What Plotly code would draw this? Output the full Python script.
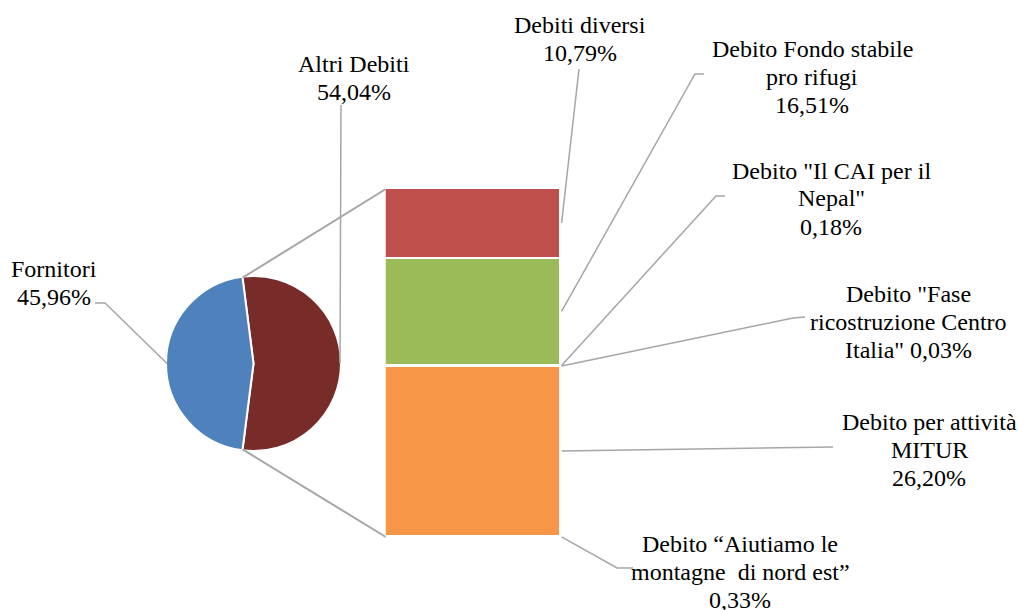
import math
import plotly.graph_objects as go

W, H = 1018, 610

# ---- data -------------------------------------------------------------
pie_labels = ["Fornitori", "Altri Debiti"]
pie_values = [45.96, 54.04]
pie_colors = ["#4F81BD", "#772C2A"]

# breakdown of "Altri Debiti", stacked bottom -> top
bar_labels = [
    "Debito “Aiutiamo le montagne di nord est”",
    "Debito per attività MITUR",
    "Debito \"Fase ricostruzione Centro Italia\"",
    "Debito \"Il CAI per il Nepal\"",
    "Debito Fondo stabile pro rifugi",
    "Debiti diversi",
]
bar_values = [0.33, 26.20, 0.03, 0.18, 16.51, 10.79]
bar_colors = ["#2C4D75", "#F79646", "#8064A2", "#4BACC6", "#9BBB59", "#C0504D"]

# text lines of each data label; {p} becomes the formatted percentage
pie_label_lines = [["Fornitori", "{p}"], ["Altri Debiti", "{p}"]]
bar_label_lines = [
    ["Debito “Aiutiamo le", "montagne  di nord est”", "{p}"],
    ["Debito per attività", "MITUR", "{p}"],
    ["Debito \"Fase", "ricostruzione Centro", "Italia\" {p}"],
    ["Debito \"Il CAI per il", "Nepal\"", "{p}"],
    ["Debito Fondo stabile", "pro rifugi", "{p}"],
    ["Debiti diversi", "{p}"],
]

# ---- layout (pixel positions) ------------------------------------------
PIE_BOX = (166.0, 276.0, 341.0, 451.0)      # x0, y0, x1, y1
BAR_BOX = (385.4, 188.0, 560.6, 538.0)
BORDER = 2.5
LINE_GAP = 28
FONT = dict(family="Liberation Serif", size=24, color="#000000")
LEADER = dict(color="#A6A6A6", width=1.5)
CONNECTOR = dict(color="#A6A6A6", width=2)

pie_label_pos = [(53.5, 269), (354, 64)]
pie_leader_elbow = [[(95, 303), (105, 303)], [(341, 105)]]
bar_label_pos = [(740, 544), (929, 421.5), (908, 293.5),
                 (831, 170.5), (812, 49.5), (580, 25)]
bar_leader_elbow = [[(633, 568), (617, 568)], [(833, 447)], [(805, 317), (793, 318)],
                    [(725, 196), (716, 196)], [(704, 74), (695, 74)], [(579, 69)]]


def fmt(v):
    return f"{v:.2f}".replace(".", ",") + "%"


def px_to_paper(x, y):
    return x / W, 1 - y / H


total_other = sum(bar_values)
pie_total = sum(pie_values)
share_other = pie_values[1] / pie_total

# the "other" slice is centred on the right side of the pie
rotation = 90 - 180 * share_other

cx = (PIE_BOX[0] + PIE_BOX[2]) / 2
cy = (PIE_BOX[1] + PIE_BOX[3]) / 2
R = (PIE_BOX[2] - PIE_BOX[0]) / 2
R_vis = R - 1


def pie_point(angle_deg, r):
    a = math.radians(angle_deg)
    return cx + r * math.sin(a), cy - r * math.cos(a)


def bar_y(v):
    return BAR_BOX[3] - (BAR_BOX[3] - BAR_BOX[1]) * v / total_other


fig = go.Figure()

fig.add_trace(go.Pie(
    labels=pie_labels[::-1], values=pie_values[::-1],
    marker=dict(colors=pie_colors[::-1], line=dict(color="white", width=2)),
    sort=False, direction="clockwise", rotation=rotation,
    textinfo="none", hoverinfo="label+percent", showlegend=False,
    domain=dict(x=[PIE_BOX[0] / W, PIE_BOX[2] / W],
                y=[1 - PIE_BOX[3] / H, 1 - PIE_BOX[1] / H]),
))

for name, v, c in zip(bar_labels, bar_values, bar_colors):
    fig.add_trace(go.Bar(
        x=[0], y=[v], name=name, width=1,
        marker=dict(color=c, line=dict(color="white", width=BORDER)),
        showlegend=False, hovertemplate=name + ": " + fmt(v) + "<extra></extra>",
    ))

shapes = []
annotations = []


def add_path(points, style):
    pts = [px_to_paper(x, y) for x, y in points]
    d = "M " + " L ".join(f"{x:.5f},{y:.5f}" for x, y in pts)
    shapes.append(dict(type="path", path=d, xref="paper", yref="paper",
                       line=style, layer="above"))


def add_label(lines, pos, pct):
    x0, y0 = pos
    for i, t in enumerate(lines):
        x, y = px_to_paper(x0, y0 + i * LINE_GAP)
        annotations.append(dict(text=t.replace("{p}", pct), x=x, y=y,
                                xref="paper", yref="paper", showarrow=False,
                                xanchor="center", yanchor="middle", font=FONT))


# pie-to-bar connectors from the edges of the "other" slice
top_pt = pie_point(rotation, R_vis)
bot_pt = pie_point(rotation + 360 * share_other, R_vis)
add_path([top_pt, (BAR_BOX[0], BAR_BOX[1] + BORDER / 2)], CONNECTOR)
add_path([bot_pt, (BAR_BOX[0], BAR_BOX[3] - BORDER / 2)], CONNECTOR)

# pie labels with leader lines to slice midpoints
start = {pie_labels[1]: rotation, pie_labels[0]: rotation + 360 * share_other}
for i, (name, v) in enumerate(zip(pie_labels, pie_values)):
    mid = start[name] + 180 * v / pie_total
    end = pie_point(mid, R_vis)
    add_path(pie_leader_elbow[i] + [end], LEADER)
    add_label(pie_label_lines[i], pie_label_pos[i], fmt(v))

# bar labels with leader lines to segment midpoints
cum = 0
for i, v in enumerate(bar_values):
    mid = cum + v / 2
    cum += v
    end = (BAR_BOX[2] + 1, bar_y(mid))
    add_path(bar_leader_elbow[i] + [end], LEADER)
    add_label(bar_label_lines[i], bar_label_pos[i], fmt(v))

fig.update_layout(
    width=W, height=H, autosize=False,
    margin=dict(l=0, r=0, t=0, b=0, pad=0),
    paper_bgcolor="white", plot_bgcolor="white",
    barmode="stack", bargap=0,
    xaxis=dict(domain=[BAR_BOX[0] / W, BAR_BOX[2] / W], range=[-0.5, 0.5],
               visible=False, fixedrange=True),
    yaxis=dict(domain=[1 - BAR_BOX[3] / H, 1 - BAR_BOX[1] / H], range=[0, total_other],
               visible=False, fixedrange=True),
    shapes=shapes, annotations=annotations,
)

fig.write_html("out.html")
